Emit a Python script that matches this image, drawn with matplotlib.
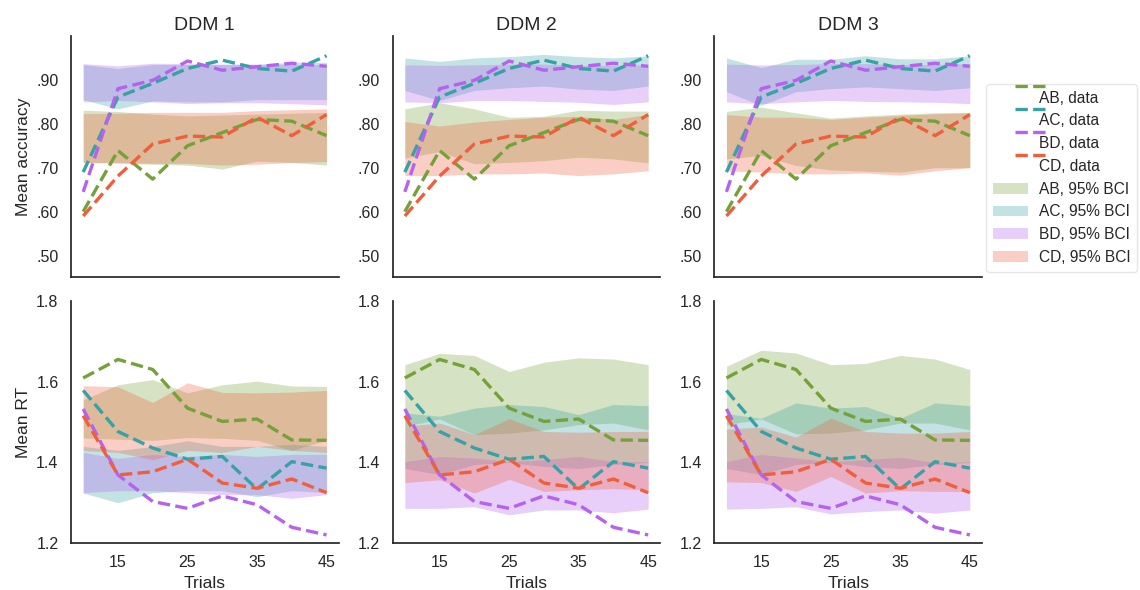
import matplotlib
matplotlib.use("Agg")
import matplotlib.pyplot as plt
from matplotlib.legend_handler import HandlerLine2D
from matplotlib.transforms import Affine2D
from matplotlib.patches import Patch

plt.rcParams['font.family'] = ['Liberation Sans', 'DejaVu Sans']
plt.rcParams['text.color'] = '#262626'
plt.rcParams['axes.labelcolor'] = '#262626'
plt.rcParams['xtick.color'] = '#262626'
plt.rcParams['ytick.color'] = '#262626'

trials = [10, 15, 20, 25, 30, 35, 40, 45]
conds = ["AB", "AC", "BD", "CD"]
models = ["DDM 1", "DDM 2", "DDM 3"]
colors = {"AB": "#76a13a", "AC": "#36a2a5", "BD": "#b562ef", "CD": "#ef5f3c"}

acc_ticks = [0.50, 0.60, 0.70, 0.80, 0.90]
acc_ticklabels = [".50", ".60", ".70", ".80", ".90"]
rt_ticks = [1.2, 1.4, 1.6, 1.8]
rt_ticklabels = ["1.2", "1.4", "1.6", "1.8"]
x_ticks = [15, 25, 35, 45]

# observed data
acc_AB = [0.600, 0.739, 0.674, 0.750, 0.780, 0.810, 0.806, 0.773]
acc_AC = [0.690, 0.861, 0.892, 0.926, 0.945, 0.926, 0.920, 0.955]
acc_BD = [0.645, 0.880, 0.899, 0.943, 0.922, 0.930, 0.938, 0.931]
acc_CD = [0.590, 0.681, 0.754, 0.772, 0.770, 0.815, 0.773, 0.821]

rt_AB = [1.610, 1.656, 1.631, 1.535, 1.502, 1.508, 1.456, 1.455]
rt_AC = [1.579, 1.477, 1.436, 1.408, 1.415, 1.334, 1.402, 1.386]
rt_BD = [1.533, 1.369, 1.303, 1.286, 1.317, 1.295, 1.239, 1.220]
rt_CD = [1.516, 1.369, 1.377, 1.408, 1.349, 1.336, 1.359, 1.325]

# 95% BCI, DDM 1
m1_acc_AB_lo = [0.712, 0.710, 0.708, 0.706, 0.697, 0.715, 0.712, 0.706]
m1_acc_AB_hi = [0.831, 0.828, 0.822, 0.818, 0.820, 0.822, 0.824, 0.826]
m1_acc_AC_lo = [0.855, 0.834, 0.852, 0.850, 0.850, 0.855, 0.855, 0.855]
m1_acc_AC_hi = [0.935, 0.926, 0.935, 0.935, 0.935, 0.935, 0.940, 0.940]
m1_acc_BD_lo = [0.850, 0.853, 0.850, 0.846, 0.848, 0.848, 0.846, 0.843]
m1_acc_BD_hi = [0.937, 0.932, 0.938, 0.937, 0.936, 0.936, 0.935, 0.935]
m1_acc_CD_lo = [0.712, 0.712, 0.710, 0.710, 0.706, 0.708, 0.712, 0.714]
m1_acc_CD_hi = [0.823, 0.824, 0.826, 0.826, 0.826, 0.830, 0.832, 0.834]

m1_rt_AB_lo = [1.461, 1.458, 1.455, 1.462, 1.460, 1.455, 1.430, 1.455]
m1_rt_AB_hi = [1.556, 1.593, 1.606, 1.573, 1.593, 1.602, 1.590, 1.589]
m1_rt_AC_lo = [1.324, 1.300, 1.325, 1.330, 1.330, 1.315, 1.330, 1.325]
m1_rt_AC_hi = [1.440, 1.430, 1.440, 1.454, 1.440, 1.440, 1.445, 1.440]
m1_rt_BD_lo = [1.325, 1.330, 1.330, 1.325, 1.320, 1.320, 1.311, 1.320]
m1_rt_BD_hi = [1.425, 1.410, 1.420, 1.415, 1.420, 1.415, 1.420, 1.420]
m1_rt_CD_lo = [1.430, 1.425, 1.407, 1.430, 1.425, 1.440, 1.430, 1.425]
m1_rt_CD_hi = [1.591, 1.588, 1.549, 1.598, 1.574, 1.573, 1.575, 1.579]

# 95% BCI, DDM 2
m2_acc_AB_lo = [0.722, 0.737, 0.709, 0.712, 0.716, 0.724, 0.720, 0.711]
m2_acc_AB_hi = [0.834, 0.848, 0.834, 0.815, 0.817, 0.831, 0.829, 0.829]
m2_acc_AC_lo = [0.876, 0.853, 0.876, 0.882, 0.886, 0.879, 0.876, 0.886]
m2_acc_AC_hi = [0.950, 0.942, 0.950, 0.953, 0.958, 0.953, 0.950, 0.955]
m2_acc_BD_lo = [0.850, 0.848, 0.853, 0.853, 0.851, 0.849, 0.844, 0.850]
m2_acc_BD_hi = [0.934, 0.933, 0.934, 0.936, 0.936, 0.933, 0.933, 0.934]
m2_acc_CD_lo = [0.682, 0.682, 0.686, 0.686, 0.688, 0.682, 0.686, 0.693]
m2_acc_CD_hi = [0.805, 0.795, 0.804, 0.810, 0.815, 0.817, 0.810, 0.821]

m2_rt_AB_lo = [1.490, 1.508, 1.469, 1.473, 1.481, 1.494, 1.498, 1.481]
m2_rt_AB_hi = [1.643, 1.671, 1.666, 1.626, 1.649, 1.660, 1.657, 1.643]
m2_rt_AC_lo = [1.385, 1.370, 1.395, 1.400, 1.390, 1.385, 1.395, 1.400]
m2_rt_AC_hi = [1.523, 1.515, 1.535, 1.544, 1.539, 1.519, 1.544, 1.541]
m2_rt_BD_lo = [1.286, 1.286, 1.290, 1.270, 1.282, 1.282, 1.275, 1.284]
m2_rt_BD_hi = [1.402, 1.415, 1.411, 1.402, 1.407, 1.415, 1.402, 1.402]
m2_rt_CD_lo = [1.350, 1.357, 1.324, 1.358, 1.328, 1.332, 1.335, 1.332]
m2_rt_CD_hi = [1.490, 1.498, 1.469, 1.509, 1.477, 1.475, 1.477, 1.477]

# 95% BCI, DDM 3
m3_acc_AB_lo = [0.720, 0.728, 0.705, 0.695, 0.692, 0.690, 0.700, 0.700]
m3_acc_AB_hi = [0.828, 0.838, 0.825, 0.813, 0.818, 0.822, 0.825, 0.826]
m3_acc_AC_lo = [0.873, 0.842, 0.873, 0.880, 0.884, 0.880, 0.876, 0.882]
m3_acc_AC_hi = [0.950, 0.928, 0.947, 0.947, 0.955, 0.948, 0.948, 0.955]
m3_acc_BD_lo = [0.850, 0.846, 0.850, 0.853, 0.851, 0.850, 0.849, 0.846]
m3_acc_BD_hi = [0.936, 0.934, 0.935, 0.937, 0.937, 0.935, 0.935, 0.937]
m3_acc_CD_lo = [0.693, 0.690, 0.686, 0.686, 0.688, 0.683, 0.693, 0.700]
m3_acc_CD_hi = [0.821, 0.815, 0.815, 0.810, 0.815, 0.819, 0.823, 0.825]

m3_rt_AB_lo = [1.494, 1.508, 1.471, 1.473, 1.481, 1.498, 1.498, 1.481]
m3_rt_AB_hi = [1.639, 1.679, 1.672, 1.643, 1.646, 1.666, 1.657, 1.631]
m3_rt_AC_lo = [1.385, 1.370, 1.395, 1.400, 1.390, 1.385, 1.395, 1.400]
m3_rt_AC_hi = [1.521, 1.510, 1.548, 1.535, 1.539, 1.510, 1.548, 1.541]
m3_rt_BD_lo = [1.284, 1.286, 1.290, 1.272, 1.278, 1.282, 1.274, 1.282]
m3_rt_BD_hi = [1.402, 1.420, 1.411, 1.402, 1.407, 1.413, 1.400, 1.402]
m3_rt_CD_lo = [1.352, 1.350, 1.328, 1.365, 1.324, 1.330, 1.328, 1.328]
m3_rt_CD_hi = [1.483, 1.488, 1.463, 1.510, 1.477, 1.473, 1.473, 1.477]

acc_data = {"AB": acc_AB, "AC": acc_AC, "BD": acc_BD, "CD": acc_CD}
rt_data = {"AB": rt_AB, "AC": rt_AC, "BD": rt_BD, "CD": rt_CD}
bci = {
    0: {"acc": {"AB": (m1_acc_AB_lo, m1_acc_AB_hi), "AC": (m1_acc_AC_lo, m1_acc_AC_hi),
                "BD": (m1_acc_BD_lo, m1_acc_BD_hi), "CD": (m1_acc_CD_lo, m1_acc_CD_hi)},
        "rt": {"AB": (m1_rt_AB_lo, m1_rt_AB_hi), "AC": (m1_rt_AC_lo, m1_rt_AC_hi),
               "BD": (m1_rt_BD_lo, m1_rt_BD_hi), "CD": (m1_rt_CD_lo, m1_rt_CD_hi)}},
    1: {"acc": {"AB": (m2_acc_AB_lo, m2_acc_AB_hi), "AC": (m2_acc_AC_lo, m2_acc_AC_hi),
                "BD": (m2_acc_BD_lo, m2_acc_BD_hi), "CD": (m2_acc_CD_lo, m2_acc_CD_hi)},
        "rt": {"AB": (m2_rt_AB_lo, m2_rt_AB_hi), "AC": (m2_rt_AC_lo, m2_rt_AC_hi),
               "BD": (m2_rt_BD_lo, m2_rt_BD_hi), "CD": (m2_rt_CD_lo, m2_rt_CD_hi)}},
    2: {"acc": {"AB": (m3_acc_AB_lo, m3_acc_AB_hi), "AC": (m3_acc_AC_lo, m3_acc_AC_hi),
                "BD": (m3_acc_BD_lo, m3_acc_BD_hi), "CD": (m3_acc_CD_lo, m3_acc_CD_hi)},
        "rt": {"AB": (m3_rt_AB_lo, m3_rt_AB_hi), "AC": (m3_rt_AC_lo, m3_rt_AC_hi),
               "BD": (m3_rt_BD_lo, m3_rt_BD_hi), "CD": (m3_rt_CD_lo, m3_rt_CD_hi)}},
}

fig, axes = plt.subplots(2, 3, figsize=(11.4, 5.9), dpi=100, sharex=True)
fig.subplots_adjust(left=0.0623, right=0.8614, top=0.939, bottom=0.0797,
                    wspace=0.2015, hspace=0.0994)

line_handles = []
for j in range(3):
    for i, (key, data) in enumerate([("acc", acc_data), ("rt", rt_data)]):
        ax = axes[i, j]
        for c in conds:
            ln, = ax.plot(trials, data[c], ls="--", lw=2.4, color=colors[c],
                          label=f"{c}, data")
            if i == 0 and j == 0:
                line_handles.append(ln)
        for c in conds:
            lo, hi = bci[j][key][c]
            ax.fill_between(trials, lo, hi, color=colors[c], alpha=0.3, lw=0)
        for s in ["top", "right"]:
            ax.spines[s].set_visible(False)
        for s in ["left", "bottom"]:
            ax.spines[s].set_color("#262626")
            ax.spines[s].set_linewidth(1.25)
        ax.tick_params(length=0, pad=9, labelsize=11.5)
        if i == 0:
            ax.set_ylim(0.45, 1.0)
            ax.set_yticks(acc_ticks)
            ax.set_yticklabels(acc_ticklabels)
            ax.set_title(models[j], fontsize=14, pad=4)
        else:
            ax.set_ylim(1.2, 1.8)
            ax.set_yticks(rt_ticks)
            ax.set_yticklabels(rt_ticklabels)
            ax.set_xticks(x_ticks)
            ax.set_xlabel("Trials", fontsize=12.5, labelpad=4)

axes[0, 0].set_ylabel("Mean accuracy", fontsize=12.5)
axes[1, 0].set_ylabel("Mean RT", fontsize=12.5)
axes[0, 0].set_xlim(8.25, 46.75)


class ShiftedLineHandler(HandlerLine2D):
    def create_artists(self, legend, orig_handle, xdescent, ydescent,
                       width, height, fontsize, trans):
        arts = super().create_artists(legend, orig_handle, xdescent, ydescent,
                                      width, height, fontsize, trans)
        shift = Affine2D().translate(width * 0.62, height * 1.0)
        for a in arts:
            a.set_transform(shift + trans)
        return arts


patch_handles = [Patch(facecolor=colors[c], alpha=0.3, edgecolor="none",
                       label=f"{c}, 95% BCI") for c in conds]
handles = line_handles + patch_handles
labels = [h.get_label() for h in handles]
hmap = {h: ShiftedLineHandler() for h in line_handles}
fig.legend(handles, labels, loc="upper left", bbox_to_anchor=(0.8585, 0.8715),
           fontsize=11.2, labelspacing=0.5, handlelength=2.2, handletextpad=0.7,
           borderpad=0.45, frameon=True, fancybox=True, edgecolor="#e0e0e0",
           handler_map=hmap)

fig.savefig("out.png", dpi=100)
